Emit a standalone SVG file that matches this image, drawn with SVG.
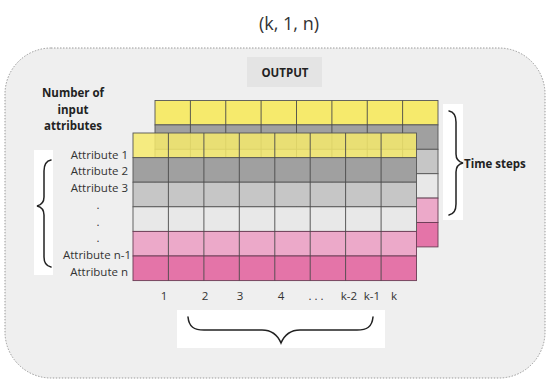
<svg xmlns="http://www.w3.org/2000/svg" width="550" height="385" viewBox="0 0 550 385">
<style>
text{font-family:"Open Sans","Liberation Sans",sans-serif;fill:#333}
.b{font-weight:bold;font-size:11.5px;fill:#222}
.lab{font-size:11.5px;text-anchor:end}
.num{font-size:11.5px;text-anchor:middle}
.cell{stroke:#555;stroke-width:0.9}
.pk{stroke:#6a3c55;stroke-width:0.9}
.vl{stroke:#4a4a4a;stroke-width:0.9;fill:none}
.brace{fill:none;stroke:#222;stroke-width:1.5;stroke-linecap:round}
.wbox{fill:#fff}
</style>
<rect width="550" height="385" fill="#fff"/>
<g id="title"><text x="289" y="30" font-size="18" text-anchor="middle">(k, 1, n)</text></g>
<g id="frame"><rect x="5" y="48" width="540" height="330" rx="46" ry="46" fill="#efefef" stroke="#9a9a9a" stroke-width="1" stroke-dasharray="1.5 1.5"/></g>
<g id="output"><rect x="247" y="57" width="75" height="30" fill="#e4e4e4"/><text x="285" y="76.5" class="b" text-anchor="middle" font-size="12">OUTPUT</text></g>
<g id="back-grid">
<rect class="cell" x="155" y="100.5" width="283" height="24.4" fill="#f6ea6c"/>
<rect class="cell" x="155" y="124.9" width="283" height="24.4" fill="#a0a0a0"/>
<rect class="cell" x="155" y="149.3" width="283" height="24.4" fill="#c6c6c6"/>
<rect class="cell" x="155" y="173.7" width="283" height="24.4" fill="#e8e8e8"/>
<rect class="pk" x="155" y="198.1" width="283" height="24.4" fill="#eca9c9"/>
<rect class="pk" x="155" y="222.5" width="283" height="24.4" fill="#e474a8"/>
<path class="vl" d="M190.4,100.5V246.9M225.75,100.5V246.9M261.1,100.5V246.9M296.5,100.5V246.9M331.9,100.5V246.9M367.25,100.5V246.9M402.6,100.5V246.9"/>
</g>
<g id="front-grid">
<rect class="cell" x="133" y="157.6" width="283.5" height="24.6" fill="#a0a0a0"/>
<rect class="cell" x="133" y="182.2" width="283.5" height="24.6" fill="#c6c6c6"/>
<rect class="cell" x="133" y="206.8" width="283.5" height="24.6" fill="#e8e8e8"/>
<rect class="pk" x="133" y="231.4" width="283.5" height="24.6" fill="#eca9c9"/>
<rect class="pk" x="133" y="256" width="283.5" height="24.6" fill="#e474a8"/>
<rect class="cell" x="133" y="133" width="283.5" height="24.6" fill="#f6ea6c" fill-opacity="0.85"/>
<path class="vl" d="M168.4,133V280.6M203.9,133V280.6M239.3,133V280.6M274.8,133V280.6M310.2,133V280.6M345.6,133V280.6M381.1,133V280.6"/>
</g>
<g id="attributes-heading">
<text class="b" x="73" y="97" text-anchor="middle">Number of</text>
<text class="b" x="73" y="113.5" text-anchor="middle">input</text>
<text class="b" x="73" y="130" text-anchor="middle">attributes</text>
</g>
<g id="attribute-brace"><rect class="wbox" x="34" y="150" width="19" height="125"/><path class="brace" d="M51,160 C46,161 44,165 44,171 L44,197 C44,202 41,205 37,206 C41,207 44,210 44,215 L44,257 C44,262 46,266 51,267"/></g>
<g id="attribute-labels">
<text class="lab" x="128" y="158.5">Attribute 1</text>
<text class="lab" x="128" y="175.3">Attribute 2</text>
<text class="lab" x="128" y="192">Attribute 3</text>
<text class="num" x="98" y="208.8">.</text>
<text class="num" x="98" y="225.6">.</text>
<text class="num" x="98" y="242.4">.</text>
<text class="lab" x="131" y="259.2">Attribute n-1</text>
<text class="lab" x="128" y="276">Attribute n</text>
</g>
<g id="time-steps">
<rect class="wbox" x="443" y="104" width="20" height="116"/>
<path class="brace" d="M449,111 C454,112 456,116 456,122 L456,154 C456,159 459,162 463,163 C459,164 456,167 456,172 L456,204 C456,210 454,214 449,215"/>
<text class="b" x="464" y="167.5">Time steps</text>
</g>
<g id="column-labels">
<text class="num" x="164" y="300">1</text>
<text class="num" x="205" y="300">2</text>
<text class="num" x="240" y="300">3</text>
<text class="num" x="281" y="300">4</text>
<text class="num" x="316" y="300">. . .</text>
<text class="num" x="349" y="300">k-2</text>
<text class="num" x="372" y="300">k-1</text>
<text class="num" x="394" y="300">k</text>
</g>
<g id="column-brace"><rect class="wbox" x="177" y="310" width="208" height="38"/><path class="brace" d="M188,317 C189,327 194,330 204,330 L262,330 C272,330 278,336 281,343 C284,336 290,330 300,330 L357,330 C367,330 372,327 373,317"/></g>
</svg>
